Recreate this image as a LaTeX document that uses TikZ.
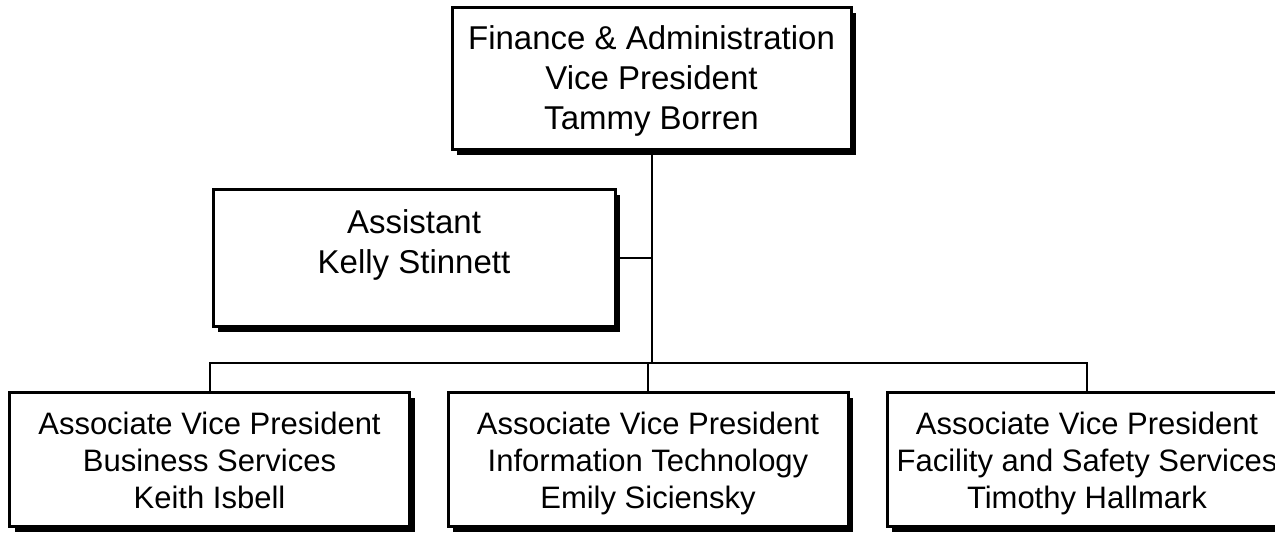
\documentclass[tikz,border=0pt]{standalone}
\usepackage{fontspec}
\setmainfont{Liberation Sans}
\usetikzlibrary{shadows}
\begin{document}
\begin{tikzpicture}[x=0.5pt,y=-0.5pt,
        orgbox/.style={draw, line width=1.5pt, fill=white, align=center, inner sep=0pt,
            text depth=0pt,
            drop shadow={fill=black, opacity=1, shadow xshift=2.5pt, shadow yshift=-2.5pt}},
        topfont/.style={font=\fontsize{16.5}{20}\selectfont},
        avpfont/.style={font=\fontsize{15.5}{18.5}\selectfont},
        link/.style={line width=1pt}]
            \useasboundingbox (0,0) rectangle (1275,533);

            \node[orgbox, topfont, text depth=1.5pt, minimum width=199.5pt, minimum height=71pt] (vp) at (651.5,79) {Finance \& Administration\\Vice President\\Tammy Borren};
            \node[orgbox, topfont, minimum width=201pt, minimum height=68.5pt] (asst) at (414,258.5) {Assistant\\Kelly Stinnett\\[-3pt]~};

            \node[orgbox, avpfont, minimum width=200pt, minimum height=67pt] (bsvc) at (209.5,460) {Associate Vice President\\Business Services\\Keith Isbell};
            \node[orgbox, avpfont, minimum width=200pt, minimum height=67pt] (itech) at (648,460) {Associate Vice President\\Information Technology\\Emily Siciensky};
            \node[orgbox, avpfont, minimum width=200pt, minimum height=67pt] (fss) at (1087,460) {Associate Vice President\\Facility and Safety Services\\Timothy Hallmark};

            \coordinate (bus) at (651,363);

            \draw[link] (vp.south) -- (vp.south |- bus);
            \draw[link] (asst.east) -- (asst.east -| vp.south);
            \draw[link] (bsvc.north) -- (bsvc.north |- bus) -- (fss.north |- bus) -- (fss.north);
            \draw[link] (itech.north) -- (itech.north |- bus);
        \end{tikzpicture}
\end{document}
